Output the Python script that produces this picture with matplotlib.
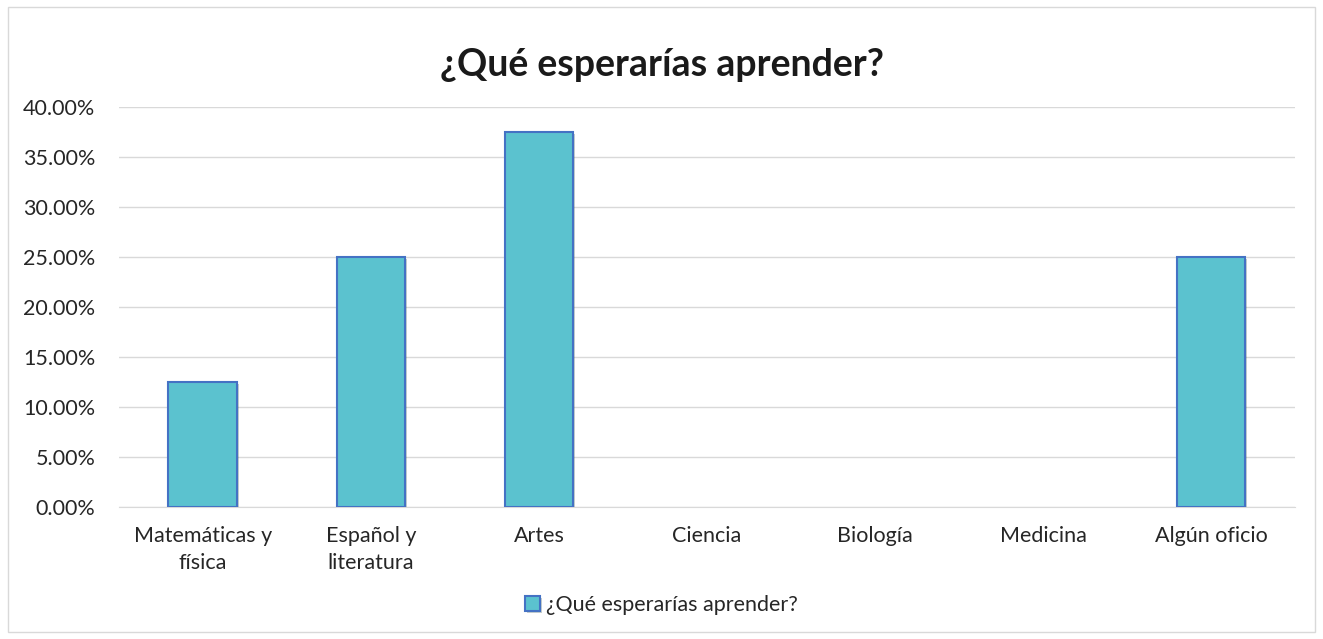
import matplotlib.pyplot as plt
from matplotlib.patches import Rectangle
from matplotlib.ticker import FuncFormatter
import matplotlib.patheffects as pe

plt.rcParams['font.family'] = ['Lato', 'DejaVu Sans']

categories = ["Matemáticas y\nfísica", "Español y\nliteratura", "Artes", "Ciencia",
              "Biología", "Medicina", "Algún oficio"]
values = [12.5, 25.0, 37.5, 0.0, 0.0, 0.0, 25.0]
series_name = "¿Qué esperarías aprender?"

fig = plt.figure(figsize=(13.23, 6.39), dpi=100)
fig.patches.append(Rectangle((0.006, 0.011), 0.988, 0.978, transform=fig.transFigure,
                             fill=False, edgecolor='#D9D9D9', linewidth=1))

ax = fig.add_axes([0.0899, 0.2066, 0.8889, 0.626])
x = range(len(categories))
bars = ax.bar(x, values, width=0.41, color='#5BC2CF', edgecolor='#4472C4',
              linewidth=1.5, zorder=3, label=series_name)
for b, v in zip(bars, values):
    if v == 0:
        b.set_linewidth(0)
    b.set_path_effects([pe.SimplePatchShadow(offset=(1.5, -1.5), alpha=0.25), pe.Normal()])

ax.set_xlim(-0.5, len(categories) - 0.5)
ax.set_ylim(0, 40)
ax.set_yticks(range(0, 41, 5))
ax.yaxis.set_major_formatter(FuncFormatter(lambda v, p: f"{v:.2f}%"))
ax.set_xticks(list(x))
ax.set_xticklabels(categories, fontsize=15.5, color='#262626', va='top', linespacing=1.4)
ax.tick_params(axis='y', labelsize=15.5, labelcolor='#262626', length=0, pad=17)
ax.tick_params(axis='x', length=0, pad=14)
ax.grid(axis='y', color='#D9D9D9', linewidth=1, zorder=0)
for s in ['top', 'right', 'left']:
    ax.spines[s].set_visible(False)
ax.spines['bottom'].set_color('#D9D9D9')

fig.text(0.5, 0.898, series_name, ha='center', va='center', fontsize=27,
         fontweight='bold', color='#1a1a1a')
fig.legend(handles=[bars], labels=[series_name], loc='center', bbox_to_anchor=(0.5, 0.053),
           frameon=False, fontsize=15.5, handlelength=0.7, handleheight=0.7,
           handletextpad=0.3, labelcolor='#262626')

fig.savefig('out.png', dpi=100)
